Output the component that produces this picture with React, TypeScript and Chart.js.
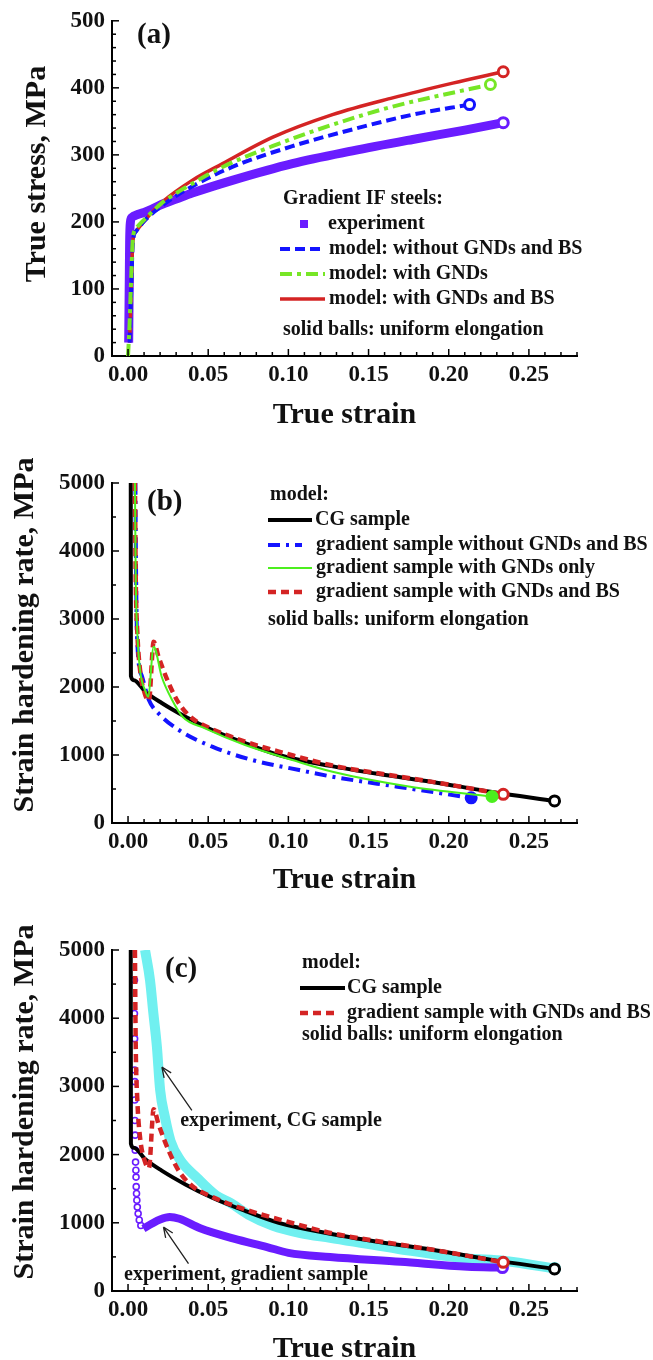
import React, { useEffect, useRef } from "react";
import { Chart, registerables } from "chart.js";

Chart.register(...registerables);

const FONT = "'Liberation Serif', 'Times New Roman', Times, serif";
const INK = "#111111";
const PURPLE = "#6a1cff";
const BLUE = "#1414ff";
const GREEN_A = "#77e626";
const GREEN_B = "#4cef1e";
const RED = "#d42424";
const CYAN = "#70f0f0";
const BLACK = "#000000";

// ---- shared axes ----
const xTickValues = [0, 0.05, 0.1, 0.15, 0.2, 0.25];
const xTickLabels = ["0.00", "0.05", "0.10", "0.15", "0.20", "0.25"];
const xMin = -0.01;
const xMax = 0.28;
const xMinorStep = 0.01;
const stressTicks = [0, 100, 200, 300, 400, 500];
const stressTickLabels = ["0", "100", "200", "300", "400", "500"];
const rateTicks = [0, 1000, 2000, 3000, 4000, 5000];
const rateTickLabels = ["0", "1000", "2000", "3000", "4000", "5000"];

// ---- panel (a): true stress vs true strain ----
const aExpStrain = [0.0004, 0.0006, 0.0008, 0.001, 0.0015, 0.0025, 0.006, 0.01, 0.015, 0.02, 0.03, 0.04, 0.065, 0.1025, 0.14, 0.1775, 0.21, 0.234];
const aExpStress = [20, 70, 120, 170, 200, 207, 211, 214, 219, 225, 234, 243, 262, 287, 306, 323, 337, 348];
const aBlueStrain = [0.001, 0.002, 0.003, 0.005, 0.01, 0.021, 0.04, 0.065, 0.1025, 0.14, 0.1775, 0.213];
const aBlueStress = [20, 100, 170, 186, 201, 224, 253, 282, 313, 338, 360, 375];
const aGreenStrain = [0, 0.001, 0.002, 0.003, 0.005, 0.01, 0.021, 0.04, 0.059, 0.09, 0.1275, 0.165, 0.226];
const aGreenStress = [0, 50, 120, 175, 190, 203, 228, 257, 282, 313, 345, 372, 405];
const aRedStrain = [0.001, 0.002, 0.003, 0.005, 0.01, 0.021, 0.04, 0.059, 0.09, 0.1275, 0.165, 0.2025, 0.234];
const aRedStress = [20, 100, 170, 186, 201, 229, 262, 287, 326, 360, 385, 407, 424];

// ---- panels (b),(c): strain hardening rate, model ----
const cgStrain = [0.0017, 0.0018, 0.0036, 0.0108, 0.021, 0.0358, 0.0525, 0.0733, 0.094, 0.126, 0.1575, 0.189, 0.226, 0.266];
const cgRate = [5000, 2160, 2100, 1931, 1765, 1563, 1368, 1172, 1000, 840, 716, 608, 460, 324];
const bBlueStrain = [0.0046, 0.005, 0.0056, 0.0088, 0.013, 0.019, 0.0317, 0.0525, 0.0775, 0.1067, 0.1275, 0.168, 0.214];
const bBlueRate = [5000, 3720, 2740, 2150, 1809, 1613, 1368, 1122, 926, 779, 681, 534, 370];
const bGreenStrain = [0.0043, 0.0048, 0.0058, 0.0075, 0.011, 0.0125, 0.016, 0.021, 0.0275, 0.034, 0.048, 0.073, 0.1025, 0.1275, 0.176, 0.227];
const bGreenRate = [5000, 3600, 2800, 2250, 1930, 1858, 2593, 2151, 1809, 1563, 1392, 1147, 926, 754, 534, 390];
const gRedStrain = [0.0043, 0.0048, 0.0058, 0.0075, 0.0105, 0.013, 0.016, 0.019, 0.0254, 0.0317, 0.04, 0.0525, 0.073, 0.098, 0.1275, 0.17, 0.2, 0.234];
const gRedRate = [5000, 3600, 2800, 2250, 1900, 1800, 2666, 2446, 2054, 1760, 1539, 1380, 1196, 1025, 845, 680, 565, 421];

// ---- panel (c): experiments ----
const cExpCGStrain = [0.0106, 0.0137, 0.0158, 0.018, 0.02, 0.023, 0.0265, 0.0325, 0.043, 0.055, 0.064, 0.075, 0.09, 0.1075, 0.126, 0.168, 0.21, 0.235, 0.266];
const cExpCGRate = [5000, 4560, 4072, 3582, 2950, 2550, 2200, 1920, 1660, 1400, 1290, 1120, 960, 850, 780, 620, 480, 440, 330];
const cExpGrStrain = [0.0096, 0.015, 0.02, 0.026, 0.032, 0.045, 0.066, 0.0867, 0.1, 0.126, 0.17, 0.2117, 0.2335];
const cExpGrRate = [915, 990, 1050, 1085, 1060, 920, 768, 645, 560, 499, 428, 355, 343];
const cExpGrEarlyStrain = [0.004, 0.004, 0.0041, 0.0041, 0.0042, 0.0042, 0.0043, 0.0044, 0.0045, 0.0047, 0.0049, 0.005, 0.0051, 0.0053, 0.0055, 0.0058, 0.0063, 0.007, 0.008];
const cExpGrEarlyRate = [4560, 4070, 3700, 3240, 3070, 2800, 2500, 2285, 2065, 1890, 1770, 1670, 1530, 1430, 1330, 1230, 1135, 1040, 960];

const pts = (xs: number[], ys: number[]) => xs.map((x, i) => ({ x, y: ys[i] }));

function lineDs(label: string, xs: number[], ys: number[], color: string, width: number, dash: number[], order: number, ballFill: string | null) {
  const n = xs.length;
  return {
    label,
    data: pts(xs, ys),
    borderColor: color,
    backgroundColor: color,
    borderWidth: width,
    borderDash: dash,
    borderCapStyle: "butt",
    borderJoinStyle: "round",
    cubicInterpolationMode: "monotone",
    fill: false,
    order,
    pointRadius: (c: any) => (ballFill !== null && c.dataIndex === n - 1 ? 5 : 0),
    pointHoverRadius: 0,
    pointBorderWidth: 3,
    pointBorderColor: color,
    pointBackgroundColor: ballFill ?? "#fff",
  };
}

function scatterDs(label: string, xs: number[], ys: number[], color: string, order: number) {
  return {
    label,
    data: pts(xs, ys),
    showLine: false,
    borderColor: color,
    backgroundColor: "rgba(255,255,255,0)",
    pointStyle: "circle",
    pointRadius: 3,
    pointBorderWidth: 1.6,
    pointHoverRadius: 0,
    order,
  };
}

type Row = { kind: "text" | "line" | "square"; text: string; x: number; y: number; ds?: number; x1?: number; x2?: number };
type Note = { text: string; tx: number; ty: number; ax0: number; ay0: number; ax1: number; ay1: number };

const panels: any[] = [
  {
    key: "a", top: 0, height: 440, areaTop: 14, areaBottom: 356,
    yMax: 500, yTicks: stressTicks, yLabels: stressTickLabels, yMinor: 20,
    yTitle: "True stress, MPa", yTitleX: 45, yTitleY: 174, xTitleY: 423,
    tag: "(a)", tagX: 137, tagY: 43,
    datasets: [
      lineDs("experiment", aExpStrain, aExpStress, PURPLE, 9, [], 4, "#fff"),
      lineDs("model: without GNDs and BS", aBlueStrain, aBlueStress, BLUE, 4, [10, 5], 2, "#fff"),
      lineDs("model: with GNDs", aGreenStrain, aGreenStress, GREEN_A, 4, [12, 5, 4, 5], 1, "#fff"),
      lineDs("model: with GNDs and BS", aRedStrain, aRedStress, RED, 3.5, [], 3, "#fff"),
    ],
    legend: [
      { kind: "text", text: "Gradient IF steels:", x: 283, y: 199 },
      { kind: "square", ds: 0, x1: 300, x2: 308, text: "experiment", x: 328, y: 224 },
      { kind: "line", ds: 1, x1: 280, x2: 325, text: "model: without GNDs and BS", x: 329, y: 249 },
      { kind: "line", ds: 2, x1: 280, x2: 325, text: "model: with GNDs", x: 329, y: 274 },
      { kind: "line", ds: 3, x1: 280, x2: 325, text: "model: with GNDs and BS", x: 329, y: 299 },
      { kind: "text", text: "solid balls: uniform elongation", x: 283, y: 330 },
    ] as Row[],
    notes: [] as Note[],
  },
  {
    key: "b", top: 440, height: 460, areaTop: 43, areaBottom: 383,
    yMax: 5000, yTicks: rateTicks, yLabels: rateTickLabels, yMinor: 500,
    yTitle: "Strain hardening rate, MPa", yTitleX: 33, yTitleY: 195, xTitleY: 448,
    tag: "(b)", tagX: 147, tagY: 70,
    datasets: [
      lineDs("CG sample", cgStrain, cgRate, BLACK, 4, [], 4, "#fff"),
      lineDs("gradient sample without GNDs and BS", bBlueStrain, bBlueRate, BLUE, 4, [12, 6, 3, 6], 3, BLUE),
      lineDs("gradient sample with GNDs only", bGreenStrain, bGreenRate, GREEN_B, 2, [], 1, GREEN_B),
      lineDs("gradient sample with GNDs and BS", gRedStrain, gRedRate, RED, 4.5, [8, 5], 2, "#fff"),
    ],
    legend: [
      { kind: "text", text: "model:", x: 270, y: 55 },
      { kind: "line", ds: 0, x1: 268, x2: 312, text: "CG sample", x: 315, y: 80 },
      { kind: "line", ds: 1, x1: 268, x2: 302, text: "gradient sample without GNDs and BS", x: 316, y: 105 },
      { kind: "line", ds: 2, x1: 268, x2: 312, text: "gradient sample with GNDs only", x: 316, y: 128 },
      { kind: "line", ds: 3, x1: 268, x2: 305, text: "gradient sample with GNDs and BS", x: 316, y: 152 },
      { kind: "text", text: "solid balls: uniform elongation", x: 268, y: 180 },
    ] as Row[],
    notes: [] as Note[],
  },
  {
    key: "c", top: 900, height: 460, areaTop: 50, areaBottom: 391,
    yMax: 5000, yTicks: rateTicks, yLabels: rateTickLabels, yMinor: 500,
    yTitle: "Strain hardening rate, MPa", yTitleX: 33, yTitleY: 202, xTitleY: 457,
    tag: "(c)", tagX: 165, tagY: 77,
    datasets: [
      lineDs("CG sample", cgStrain, cgRate, BLACK, 4, [], 2, "#fff"),
      lineDs("gradient sample with GNDs and BS", gRedStrain, gRedRate, RED, 4.5, [8, 5], 1, "#fff"),
      lineDs("experiment, CG sample", cExpCGStrain, cExpCGRate, CYAN, 10, [], 5, "#fff"),
      lineDs("experiment, gradient sample", cExpGrStrain, cExpGrRate, PURPLE, 8, [], 3, "#fff"),
      scatterDs("experiment, gradient sample (early)", cExpGrEarlyStrain, cExpGrEarlyRate, PURPLE, 3),
    ],
    legend: [
      { kind: "text", text: "model:", x: 302, y: 63 },
      { kind: "line", ds: 0, x1: 300, x2: 345, text: "CG sample", x: 347, y: 88 },
      { kind: "line", ds: 1, x1: 300, x2: 338, text: "gradient sample with GNDs and BS", x: 347, y: 113 },
      { kind: "text", text: "solid balls: uniform elongation", x: 302, y: 135 },
    ] as Row[],
    notes: [
      { text: "experiment, CG sample", tx: 0.0325, ty: 2493, ax0: 0.0398, ay0: 2650, ax1: 0.0211, ay1: 3284 },
      { text: "experiment, gradient sample", tx: -0.0025, ty: 230, ax0: 0.0377, ay0: 402, ax1: 0.0221, ay1: 938 },
    ] as Note[],
  },
];

function decorPlugin(p: any) {
  return {
    id: "decor_" + p.key,
    afterDraw(chart: any) {
      const { ctx, chartArea } = chart;
      const xs = chart.scales.x;
      const ys = chart.scales.y;
      ctx.save();
      ctx.setLineDash([]);
      ctx.strokeStyle = "#000";
      ctx.lineWidth = 1.5;
      // x ticks (inward)
      const nx = Math.round((xMax - xMin) / xMinorStep);
      for (let i = 0; i <= nx; i++) {
        const v = xMin + i * xMinorStep;
        const major = xTickValues.some((t) => Math.abs(t - v) < 1e-6);
        const px = xs.getPixelForValue(v);
        ctx.beginPath();
        ctx.moveTo(px, chartArea.bottom);
        ctx.lineTo(px, chartArea.bottom - (major ? 7 : 4));
        ctx.stroke();
      }
      // y ticks (inward)
      const ny = Math.round(p.yMax / p.yMinor);
      for (let i = 0; i <= ny; i++) {
        const v = i * p.yMinor;
        const major = p.yTicks.some((t: number) => Math.abs(t - v) < 1e-6);
        const py = ys.getPixelForValue(v);
        ctx.beginPath();
        ctx.moveTo(chartArea.left, py);
        ctx.lineTo(chartArea.left + (major ? 7 : 4), py);
        ctx.stroke();
      }
      ctx.fillStyle = INK;
      // axis titles
      ctx.font = `bold 30px ${FONT}`;
      ctx.textAlign = "center";
      ctx.textBaseline = "alphabetic";
      ctx.fillText("True strain", (chartArea.left + chartArea.right) / 2, p.xTitleY);
      ctx.save();
      ctx.translate(p.yTitleX, p.yTitleY);
      ctx.rotate(-Math.PI / 2);
      ctx.fillText(p.yTitle, 0, 0);
      ctx.restore();
      // panel tag
      ctx.font = `bold 29px ${FONT}`;
      ctx.textAlign = "left";
      ctx.fillText(p.tag, p.tagX, p.tagY);
      // legend
      ctx.font = `bold 20px ${FONT}`;
      ctx.textBaseline = "middle";
      for (const r of p.legend as Row[]) {
        if (r.kind === "line" && r.ds !== undefined) {
          const d = chart.data.datasets[r.ds];
          ctx.save();
          ctx.strokeStyle = d.borderColor;
          ctx.lineWidth = d.borderWidth;
          ctx.setLineDash(d.borderDash || []);
          ctx.lineCap = "butt";
          ctx.beginPath();
          ctx.moveTo(r.x1, r.y);
          ctx.lineTo(r.x2, r.y);
          ctx.stroke();
          ctx.restore();
        } else if (r.kind === "square" && r.ds !== undefined) {
          const d = chart.data.datasets[r.ds];
          ctx.fillStyle = d.borderColor;
          const s = (r.x2 as number) - (r.x1 as number);
          ctx.fillRect(r.x1 as number, r.y - s / 2, s, s);
          ctx.fillStyle = INK;
        }
        ctx.fillText(r.text, r.x, r.y);
      }
      // annotations with arrows
      for (const n of p.notes as Note[]) {
        ctx.fillText(n.text, xs.getPixelForValue(n.tx), ys.getPixelForValue(n.ty));
        const x0 = xs.getPixelForValue(n.ax0), y0 = ys.getPixelForValue(n.ay0);
        const x1 = xs.getPixelForValue(n.ax1), y1 = ys.getPixelForValue(n.ay1);
        ctx.strokeStyle = "#222";
        ctx.lineWidth = 1.3;
        ctx.beginPath();
        ctx.moveTo(x0, y0);
        ctx.lineTo(x1, y1);
        const ang = Math.atan2(y1 - y0, x1 - x0);
        for (const s of [-1, 1]) {
          ctx.moveTo(x1, y1);
          ctx.lineTo(x1 - 11 * Math.cos(ang + s * 0.4), y1 - 11 * Math.sin(ang + s * 0.4));
        }
        ctx.stroke();
      }
      ctx.restore();
    },
  };
}

function buildConfig(p: any): any {
  const tickFont = { family: FONT, size: 23, weight: "bold" };
  return {
    type: "line",
    data: { datasets: p.datasets },
    options: {
      animation: false,
      responsive: false,
      devicePixelRatio: 1,
      events: [],
      layout: { padding: { left: 0, right: 653 - 577, top: p.areaTop, bottom: 0 } },
      plugins: { legend: { display: false }, tooltip: { enabled: false }, title: { display: false } },
      scales: {
        x: {
          type: "linear",
          min: xMin,
          max: xMax,
          grid: { display: false, drawTicks: false },
          border: { display: true, color: "#000", width: 2 },
          ticks: {
            font: tickFont,
            color: INK,
            padding: 5,
            maxRotation: 0,
            autoSkip: false,
            callback: (_v: any, i: number) => xTickLabels[i],
          },
          afterBuildTicks: (s: any) => {
            s.ticks = xTickValues.map((v) => ({ value: v }));
          },
          afterFit: (s: any) => {
            s.height = p.height - p.areaBottom;
          },
        },
        y: {
          type: "linear",
          min: 0,
          max: p.yMax,
          grid: { display: false, drawTicks: false },
          border: { display: true, color: "#000", width: 2 },
          ticks: {
            font: tickFont,
            color: INK,
            padding: 7,
            autoSkip: false,
            callback: (_v: any, i: number) => p.yLabels[i],
          },
          afterBuildTicks: (s: any) => {
            s.ticks = p.yTicks.map((v: number) => ({ value: v }));
          },
          afterFit: (s: any) => {
            s.width = 112;
          },
        },
      },
    },
    plugins: [decorPlugin(p)],
  };
}

function Panel({ p }: { p: any }) {
  const ref = useRef<HTMLCanvasElement>(null);
  useEffect(() => {
    const chart = new Chart(ref.current as HTMLCanvasElement, buildConfig(p));
    return () => chart.destroy();
  }, [p]);
  return (
    <div style={{ position: "absolute", left: 0, top: p.top, width: 653, height: p.height }}>
      <canvas ref={ref} width={653} height={p.height} style={{ display: "block", width: 653, height: p.height }} />
    </div>
  );
}

export default function App() {
  return (
    <div style={{ position: "absolute", left: 0, top: 0, width: 653, height: 1360, background: "#fff", overflow: "hidden" }}>
      {panels.map((p) => (
        <Panel key={p.key} p={p} />
      ))}
    </div>
  );
}
